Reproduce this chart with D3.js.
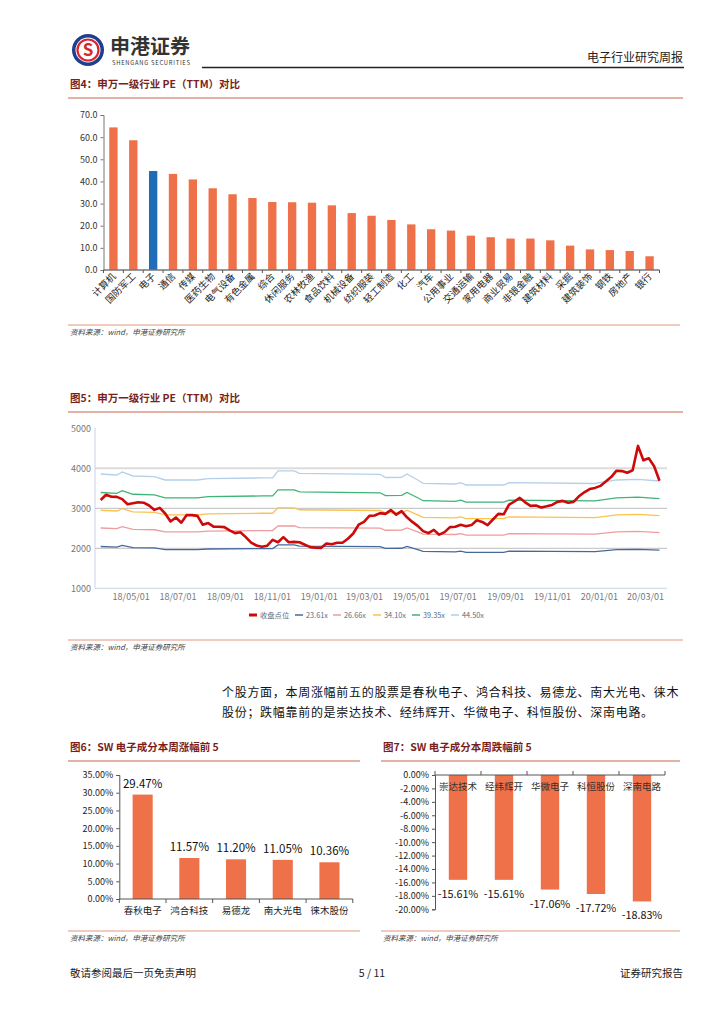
<!DOCTYPE html>
<html>
<head>
<meta charset="utf-8">
<script src="https://cdn.jsdelivr.net/npm/d3@7"></script>
<style>
  body{margin:0;background:#fff;}
  svg text{font-family:"Noto Sans CJK SC","Liberation Sans",sans-serif;}
</style>
</head>
<body>
<div id="pagina"></div>
<script>
// ---- dados fig4 ----
const setores = ['计算机','国防军工','电子','通信','传媒','医药生物','电气设备','有色金属','综合','休闲服务','农林牧渔','食品饮料','机械设备','纺织服装','轻工制造','化工','汽车','公用事业','交通运输','家用电器','商业贸易','非银金融','建筑材料','采掘','建筑装饰','钢铁','房地产','银行'];
const peSetor = [64.4,58.6,44.7,43.4,40.9,36.9,34.2,32.5,30.7,30.6,30.4,29.2,25.7,24.5,22.6,20.6,18.4,17.8,15.5,14.8,14.2,14.2,13.4,11.0,9.3,9.0,8.6,6.2];
const yTicks4 = [0,10,20,30,40,50,60,70];

// ---- dados fig5 (semanal, a partir de 2018-03-23) ----
const inicio = new Date(2018,2,23);
const fechamento = [3208,3340,3290,3285,3230,3100,3125,3150,3140,3070,2960,3010,2870,2670,2770,2640,2830,2830,2810,2590,
  2630,2540,2540,2530,2450,2380,2400,2280,2140,2070,2040,2065,2210,2150,2280,2150,2160,2150,2090,2030,
  2015,2010,2120,2100,2140,2140,2240,2370,2590,2660,2810,2820,2880,2860,2955,2840,2930,2775,2660,2560,
  2430,2380,2460,2340,2405,2530,2540,2590,2550,2580,2700,2660,2580,2720,2860,2850,3090,3170,3260,3150,
  3060,3070,3020,3050,3085,3160,3185,3140,3160,3300,3400,3480,3510,3560,3670,3780,3940,3930,3890,3950,
  4560,4200,4250,4050,3690];
// [semana, valor]
const pe2361 = [[0,2045],[3,2031],[4,2071],[6,2018],[10,2009],[12,1965],[18,1965],[20,1982],[30,1993],[32,1993],[33,2086],[36,2086],[37,2054],[52,2041],[53,1998],[56,2001],[57,2045],[59,1965],[60,1921],[66,1912],[67,1930],[68,1899],[75,1899],[76,1930],[92,1919],[96,1965],[100,1974],[104,1952]];
const pe2666 = [[0,2508],[3,2491],[4,2540],[6,2475],[10,2464],[12,2410],[18,2410],[20,2431],[30,2444],[32,2444],[33,2558],[36,2558],[37,2519],[52,2503],[53,2451],[56,2454],[57,2508],[59,2410],[60,2356],[66,2345],[67,2367],[68,2329],[75,2329],[76,2367],[92,2353],[96,2410],[100,2421],[104,2394]];
const pe3410 = [[0,2951],[3,2932],[4,2990],[6,2913],[10,2899],[12,2837],[18,2837],[20,2861],[30,2876],[32,2876],[33,3010],[36,3010],[37,2964],[52,2945],[53,2884],[56,2888],[57,2951],[59,2837],[60,2773],[66,2760],[67,2786],[68,2741],[75,2741],[76,2786],[92,2769],[96,2837],[100,2850],[104,2817]];
const pe3935 = [[0,3395],[3,3373],[4,3439],[6,3351],[10,3335],[12,3263],[18,3263],[20,3291],[30,3309],[32,3309],[33,3463],[36,3463],[37,3410],[52,3388],[53,3318],[56,3322],[57,3395],[59,3263],[60,3190],[66,3175],[67,3205],[68,3153],[75,3153],[76,3205],[92,3186],[96,3263],[100,3278],[104,3241]];
const pe4450 = [[0,3858],[3,3833],[4,3908],[6,3808],[10,3790],[12,3708],[18,3708],[20,3740],[30,3760],[32,3760],[33,3935],[36,3935],[37,3875],[52,3850],[53,3770],[56,3775],[57,3858],[59,3708],[60,3625],[66,3608],[67,3642],[68,3583],[75,3583],[76,3642],[92,3620],[96,3708],[100,3725],[104,3683]];
const datasTick5 = ['2018-05-01','2018-07-01','2018-09-01','2018-11-01','2019-01-01','2019-03-01','2019-05-01','2019-07-01','2019-09-01','2019-11-01','2020-01-01','2020-03-01'];
const yTicks5 = [1000,2000,3000,4000,5000];

// ---- dados fig6 / fig7 ----
const altaNomes = ['春秋电子','鸿合科技','易德龙','南大光电','徕木股份'];
const altaVals = [29.47,11.57,11.20,11.05,10.36];
const yTicks6 = [0,5,10,15,20,25,30,35];
const baixaNomes = ['崇达技术','经纬辉开','华微电子','科恒股份','深南电路'];
const baixaVals = [-15.61,-15.61,-17.06,-17.72,-18.83];
const yTicks7 = [0,-2,-4,-6,-8,-10,-12,-14,-16,-18,-20];

const LARANJA = '#ee7149';
const TITULO = '#7a1f1c';

const svg = d3.select('#pagina').append('svg').attr('width',724).attr('height',1024);
svg.append('rect').attr('width',724).attr('height',1024).attr('fill','#fff');

// ---- cabeçalho ----
const logo = svg.append('g').attr('transform','translate(88,50)');
logo.append('circle').attr('r',16).attr('fill','#1f3f8e');
logo.append('circle').attr('r',12.5).attr('fill','#fff');
logo.append('circle').attr('r',10.5).attr('fill','none').attr('stroke','#d9262c').attr('stroke-width',2.2);
logo.append('text').attr('y',6).attr('text-anchor','middle').attr('font-size',17).attr('font-weight','bold')
  .attr('fill','#d9262c').attr('font-family','Liberation Sans').text('S');
svg.append('text').attr('x',110).attr('y',54).attr('font-size',20).attr('font-weight','bold').attr('fill','#333').text('申港证券');
svg.append('text').attr('x',112).attr('y',65).attr('font-size',5.8).attr('fill','#333').attr('textLength',78).text('SHENGANG SECURITIES');
svg.append('line').attr('x1',202).attr('x2',684).attr('y1',67.5).attr('y2',67.5).attr('stroke','#222').attr('stroke-width',1.3);
svg.append('text').attr('x',683).attr('y',62).attr('text-anchor','end').attr('font-size',12).attr('fill','#222').text('电子行业研究周报');

function tituloFig(x,y,x2,txt){
  svg.append('text').attr('x',x).attr('y',y).attr('font-size',10.5).attr('font-weight','bold').attr('fill',TITULO).text(txt);
  svg.append('line').attr('x1',x-2).attr('x2',x2).attr('y1',y+10).attr('y2',y+10).attr('stroke','#c9664d').attr('stroke-width',1);
}
function fonte(x,y,x2){
  svg.append('line').attr('x1',x-2).attr('x2',x2).attr('y1',y-10).attr('y2',y-10).attr('stroke','#e29480').attr('stroke-width',1);
  svg.append('text').attr('x',x).attr('y',y).attr('font-size',7.5).attr('font-style','italic').attr('fill','#444').text('资料来源：wind，申港证券研究所');
}

// ---- fig4 ----
tituloFig(70,88,683,'图4：申万一级行业 PE（TTM）对比');
const x4 = d3.scaleBand().domain(setores).range([103.5,659.5]).paddingInner(0.58).paddingOuter(0.29);
const y4 = d3.scaleLinear().domain([0,70]).range([270,115]);
const g4 = svg.append('g');
g4.selectAll('rect').data(setores).join('rect')
  .attr('x',d=>x4(d)).attr('width',x4.bandwidth())
  .attr('y',(d,i)=>y4(peSetor[i])).attr('height',(d,i)=>y4(0)-y4(peSetor[i]))
  .attr('fill',d=>d==='电子'?'#1f6db8':LARANJA);
const ax4 = g4.append('g').attr('transform','translate(103.5,0)')
  .call(d3.axisLeft(y4).tickValues(yTicks4).tickFormat(d3.format('.1f')).tickSize(3));
ax4.select('.domain').attr('stroke','#777');
ax4.selectAll('line').attr('stroke','#777');
ax4.selectAll('text').attr('font-size',9).attr('fill','#333').attr('font-family','Liberation Sans');
g4.append('line').attr('x1',103.5).attr('x2',659.5).attr('y1',270).attr('y2',270).attr('stroke','#777').attr('stroke-width',1.5);
const step4 = x4.step();
g4.selectAll('.tk').data(d3.range(setores.length+1)).join('line').attr('class','tk')
  .attr('x1',i=>103.5+i*step4).attr('x2',i=>103.5+i*step4).attr('y1',270).attr('y2',273).attr('stroke','#555');
g4.selectAll('.lb').data(setores).join('text').attr('class','lb')
  .attr('transform',d=>`translate(${x4(d)+x4.bandwidth()/2+3},277) rotate(-45)`)
  .attr('text-anchor','end').attr('font-size',9.5).attr('fill','#222').text(d=>d);
fonte(70,335,680);

// ---- fig5 ----
tituloFig(70,402,683,'图5：申万一级行业 PE（TTM）对比');
const semanas = fechamento.map((v,i)=>d3.timeDay.offset(inicio,7*i));
const x5 = d3.scaleTime().domain([semanas[0],semanas[semanas.length-1]]).range([100.7,659.5]);
const y5 = d3.scaleLinear().domain([1000,5000]).range([588.3,428.3]);
const g5 = svg.append('g');
g5.selectAll('.grid').data([2000,3000,4000]).join('line').attr('class','grid')
  .attr('x1',95).attr('x2',667).attr('y1',d=>y5(d)).attr('y2',d=>y5(d))
  .attr('stroke',d=>d===4000?'#dcdcdc':'#bdbdbd').attr('stroke-width',d=>d===4000?2:1);
g5.append('line').attr('x1',95).attr('x2',95).attr('y1',428).attr('y2',588.3).attr('stroke','#c9d3de');
g5.append('line').attr('x1',95).attr('x2',667).attr('y1',588.3).attr('y2',588.3).attr('stroke','#c9d3de');
const ax5 = g5.append('g').attr('transform','translate(95,0)')
  .call(d3.axisLeft(y5).tickValues(yTicks5).tickFormat(d3.format('d')).tickSize(0).tickPadding(4));
ax5.select('.domain').remove();
ax5.selectAll('text').attr('font-size',9).attr('fill','#777').attr('font-family','Liberation Sans');
const bx5 = g5.append('g').attr('transform','translate(0,588.3)')
  .call(d3.axisBottom(x5).tickValues(datasTick5.map(d=>d3.timeParse('%Y-%m-%d')(d))).tickFormat(d3.timeFormat('%y/%m/%d')).tickSize(0).tickPadding(5));
bx5.select('.domain').remove();
bx5.selectAll('text').attr('font-size',9).attr('fill','#777').attr('font-family','Liberation Sans');

const bandas = [
  {nome:'23.61x', cor:'#46699c', dados:pe2361},
  {nome:'26.66x', cor:'#ef9c9c', dados:pe2666},
  {nome:'34.10x', cor:'#fbc24f', dados:pe3410},
  {nome:'39.35x', cor:'#3fb477', dados:pe3935},
  {nome:'44.50x', cor:'#b5cfea', dados:pe4450}
];
const linhaB = d3.line().x(d=>x5(semanas[d[0]])).y(d=>y5(d[1]));
bandas.forEach(b=>{
  g5.append('path').datum(b.dados).attr('d',linhaB).attr('fill','none').attr('stroke',b.cor).attr('stroke-width',1.3);
});
const linhaF = d3.line().x((d,i)=>x5(semanas[i])).y(d=>y5(d));
g5.append('path').datum(fechamento).attr('d',linhaF).attr('fill','none').attr('stroke','#cc0a0a').attr('stroke-width',2.6).attr('stroke-linejoin','round');

// legenda
const itensLeg = [{nome:'收盘点位',cor:'#cc0a0a',w:3}].concat(bandas.map(b=>({nome:b.nome,cor:b.cor,w:1.5})));
const posLeg = [249,295,333,373,412,451];
const leg = g5.selectAll('.leg').data(itensLeg).join('g').attr('class','leg')
  .attr('transform',(d,i)=>`translate(${posLeg[i]},615)`);
leg.append('line').attr('x1',0).attr('x2',8).attr('stroke',d=>d.cor).attr('stroke-width',d=>d.w);
leg.append('text').attr('x',11).attr('y',3).attr('font-size',7.3).attr('fill','#5a6b80').text(d=>d.nome);
fonte(70,650,683);

// ---- parágrafo ----
const para = ['个股方面，本周涨幅前五的股票是春秋电子、鸿合科技、易德龙、南大光电、徕木',
  '股份；跌幅靠前的是崇达技术、经纬辉开、华微电子、科恒股份、深南电路。'];
svg.selectAll('.para').data(para).join('text').attr('class','para')
  .attr('x',222).attr('y',(d,i)=>697+i*20).attr('font-size',12).attr('letter-spacing',0.7).attr('fill','#111').text(d=>d);

// ---- fig6 ----
tituloFig(70,751,360,'图6：SW 电子成分本周涨幅前 5');
const x6 = d3.scaleBand().domain(altaNomes).range([119.3,352.8]).paddingInner(0.57).paddingOuter(0.285);
const y6 = d3.scaleLinear().domain([0,35]).range([899,775]);
const g6 = svg.append('g');
g6.selectAll('rect').data(altaNomes).join('rect')
  .attr('x',d=>x6(d)).attr('width',x6.bandwidth())
  .attr('y',(d,i)=>y6(altaVals[i])).attr('height',(d,i)=>y6(0)-y6(altaVals[i])).attr('fill',LARANJA);
const ax6 = g6.append('g').attr('transform','translate(119.3,0)')
  .call(d3.axisLeft(y6).tickValues(yTicks6).tickFormat(d=>d.toFixed(2)+'%').tickSize(3));
ax6.select('.domain').attr('stroke','#555');
ax6.selectAll('line').attr('stroke','#555');
ax6.selectAll('text').attr('font-size',9).attr('fill','#222').attr('font-family','Liberation Sans');
g6.append('line').attr('x1',119.3).attr('x2',352.8).attr('y1',899).attr('y2',899).attr('stroke','#555');
g6.selectAll('.tk').data(d3.range(altaNomes.length+1)).join('line').attr('class','tk')
  .attr('x1',i=>119.3+i*x6.step()).attr('x2',i=>119.3+i*x6.step()).attr('y1',899).attr('y2',903).attr('stroke','#555');
g6.selectAll('.vl').data(altaVals).join('text').attr('class','vl')
  .attr('x',(d,i)=>x6(altaNomes[i])+x6.bandwidth()/2).attr('y',d=>y6(d)-7)
  .attr('text-anchor','middle').attr('font-size',11.5).attr('fill','#111').attr('font-family','Liberation Sans')
  .text(d=>d.toFixed(2)+'%');
g6.selectAll('.lb').data(altaNomes).join('text').attr('class','lb')
  .attr('x',d=>x6(d)+x6.bandwidth()/2).attr('y',914).attr('text-anchor','middle').attr('font-size',9.5).attr('fill','#222').text(d=>d);
fonte(70,941,360);

// ---- fig7 ----
tituloFig(383,751,680,'图7：SW 电子成分本周跌幅前 5');
const x7 = d3.scaleBand().domain(baixaNomes).range([435,665]).paddingInner(0.6).paddingOuter(0.3);
const y7 = d3.scaleLinear().domain([-20,0]).range([909.3,775]);
const g7 = svg.append('g');
g7.selectAll('rect').data(baixaNomes).join('rect')
  .attr('x',d=>x7(d)).attr('width',x7.bandwidth())
  .attr('y',y7(0)).attr('height',(d,i)=>y7(baixaVals[i])-y7(0)).attr('fill',LARANJA);
const ax7 = g7.append('g').attr('transform','translate(435,0)')
  .call(d3.axisLeft(y7).tickValues(yTicks7).tickFormat(d=>d.toFixed(2)+'%').tickSize(3));
ax7.select('.domain').attr('stroke','#555');
ax7.selectAll('line').attr('stroke','#555');
ax7.selectAll('text').attr('font-size',9).attr('fill','#222').attr('font-family','Liberation Sans');
g7.append('line').attr('x1',435).attr('x2',665).attr('y1',775).attr('y2',775).attr('stroke','#555');
g7.selectAll('.tk').data(d3.range(baixaNomes.length+1)).join('line').attr('class','tk')
  .attr('x1',i=>435+i*x7.step()).attr('x2',i=>435+i*x7.step()).attr('y1',775).attr('y2',771).attr('stroke','#555');
g7.selectAll('.lb').data(baixaNomes).join('text').attr('class','lb')
  .attr('x',d=>x7(d)+x7.bandwidth()/2).attr('y',790).attr('text-anchor','middle').attr('font-size',9.5).attr('fill','#333').text(d=>d);
g7.selectAll('.vl').data(baixaVals).join('text').attr('class','vl')
  .attr('x',(d,i)=>x7(baixaNomes[i])+x7.bandwidth()/2).attr('y',d=>y7(d)+18)
  .attr('text-anchor','middle').attr('font-size',10.8).attr('fill','#111').attr('font-family','Liberation Sans')
  .text(d=>d.toFixed(2)+'%');
fonte(383,941,680);

// ---- rodapé ----
svg.append('text').attr('x',70).attr('y',977).attr('font-size',10.5).attr('fill','#222').text('敬请参阅最后一页免责声明');
svg.append('text').attr('x',372).attr('y',977).attr('text-anchor','middle').attr('font-size',10.5).attr('fill','#222').attr('font-family','Liberation Sans').text('5 / 11');
svg.append('text').attr('x',683).attr('y',977).attr('text-anchor','end').attr('font-size',10.5).attr('fill','#222').text('证券研究报告');
</script>
</body>
</html>
